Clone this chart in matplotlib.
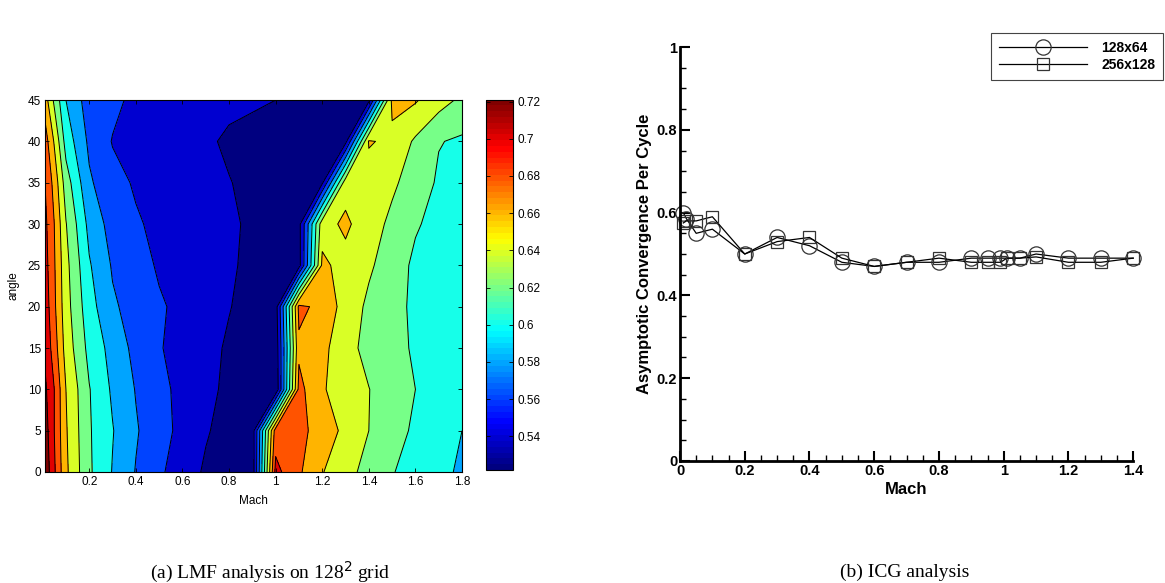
import numpy as np
import matplotlib
matplotlib.use("Agg")
import matplotlib.pyplot as plt
from matplotlib.colors import ListedColormap, Normalize
from matplotlib.cm import ScalarMappable
from matplotlib.ticker import MultipleLocator

plt.rcParams['font.family'] = ['Liberation Sans', 'DejaVu Sans']

# --- Panel (a): LMF analysis on 128^2 grid ----------------------------------
mach_grid = [0.01, 0.05, 0.1, 0.2, 0.3, 0.4, 0.5, 0.6, 0.7, 0.8, 0.9,
             1.0, 1.1, 1.2, 1.3, 1.4, 1.5, 1.6, 1.7, 1.8]
angle_grid = [0, 5, 10, 15, 20, 25, 30, 35, 40, 45]

# one row per angle, one value per Mach column
lmf_a00 = [0.735, 0.703, 0.664, 0.623, 0.599, 0.579, 0.563, 0.551, 0.537, 0.531,
           0.527, 0.706, 0.683, 0.661, 0.647, 0.633, 0.621, 0.613, 0.605, 0.597]
lmf_a05 = [0.730, 0.700, 0.662, 0.622, 0.601, 0.582, 0.567, 0.555, 0.542, 0.532,
           0.529, 0.690, 0.686, 0.671, 0.655, 0.640, 0.627, 0.617, 0.609, 0.600]
lmf_a10 = [0.724, 0.700, 0.660, 0.621, 0.597, 0.579, 0.564, 0.556, 0.546, 0.535,
           0.528, 0.522, 0.686, 0.662, 0.650, 0.6405, 0.628, 0.620, 0.613, 0.606]
lmf_a15 = [0.716, 0.690, 0.652, 0.614, 0.593, 0.574, 0.561, 0.555, 0.547, 0.537,
           0.530, 0.526, 0.676, 0.665, 0.648, 0.633, 0.625, 0.618, 0.613, 0.607]
lmf_a20 = [0.712, 0.684, 0.648, 0.608, 0.583, 0.572, 0.562, 0.556, 0.549, 0.541,
           0.532, 0.530, 0.685, 0.674, 0.652, 0.636, 0.625, 0.617, 0.612, 0.607]
lmf_a25 = [0.708, 0.682, 0.646, 0.602, 0.578, 0.567, 0.558, 0.554, 0.550, 0.543,
           0.535, 0.531, 0.532, 0.664, 0.653, 0.643, 0.630, 0.616, 0.612, 0.608]
lmf_a30 = [0.705, 0.680, 0.641, 0.594, 0.572, 0.562, 0.556, 0.553, 0.550, 0.545,
           0.535, 0.532, 0.533, 0.652, 0.664, 0.648, 0.636, 0.622, 0.614, 0.609]
lmf_a35 = [0.700, 0.673, 0.630, 0.583, 0.566, 0.558, 0.554, 0.551, 0.547, 0.541,
           0.534, 0.531, 0.530, 0.537, 0.652, 0.650, 0.643, 0.632, 0.617, 0.612]
lmf_a40 = [0.690, 0.658, 0.612, 0.576, 0.559, 0.555, 0.552, 0.549, 0.544, 0.536,
           0.533, 0.531, 0.530, 0.531, 0.534, 0.662, 0.655, 0.637, 0.621, 0.617]
lmf_a45 = [0.670, 0.636, 0.600, 0.570, 0.565, 0.555, 0.552, 0.550, 0.548, 0.546,
           0.543, 0.540, 0.535, 0.533, 0.532, 0.535, 0.665, 0.662, 0.648, 0.636]

lmf_levels = [0.54, 0.56, 0.58, 0.60, 0.62, 0.64, 0.66, 0.68, 0.70, 0.72]
cbar_min, cbar_max = 0.522, 0.721

# --- Panel (b): ICG analysis -------------------------------------------------
icg_mach = [0.01, 0.02, 0.05, 0.1, 0.2, 0.3, 0.4, 0.5, 0.6, 0.7,
            0.8, 0.9, 0.95, 0.99, 1.01, 1.05, 1.1, 1.2, 1.3, 1.4]
conv_128x64 = [0.60, 0.585, 0.55, 0.56, 0.50, 0.54, 0.52, 0.48, 0.47, 0.48,
               0.48, 0.49, 0.49, 0.49, 0.49, 0.49, 0.50, 0.49, 0.49, 0.49]
conv_256x128 = [0.575, 0.58, 0.58, 0.59, 0.50, 0.53, 0.54, 0.49, 0.47, 0.48,
                0.49, 0.48, 0.48, 0.48, 0.49, 0.49, 0.493, 0.48, 0.48, 0.49]


def matlab_jet(n=64):
    t = np.linspace(0, 1, n)
    r = np.clip(1.5 - np.abs(4 * t - 3), 0, 1)
    g = np.clip(1.5 - np.abs(4 * t - 2), 0, 1)
    b = np.clip(1.5 - np.abs(4 * t - 1), 0, 1)
    return ListedColormap(np.column_stack([r, g, b]))


fig = plt.figure(figsize=(11.65, 5.83), dpi=100)

# --- contour panel -----------------------------------------------------------
jet = matlab_jet()
norm = Normalize(cbar_min, cbar_max)
Z = np.array([lmf_a00, lmf_a05, lmf_a10, lmf_a15, lmf_a20,
              lmf_a25, lmf_a30, lmf_a35, lmf_a40, lmf_a45])
band_lower = [cbar_min] + lmf_levels
band_colors = [jet(norm(v)) for v in band_lower]
fill_levels = [0.50] + lmf_levels + [0.80]

ax1 = fig.add_axes([0.0386, 0.1904, 0.358, 0.638])
ax1.contourf(mach_grid, angle_grid, Z, levels=fill_levels, colors=band_colors)
ax1.contour(mach_grid, angle_grid, Z, levels=lmf_levels, colors='k', linewidths=0.7)
ax1.set_xlim(0.01, 1.8)
ax1.set_ylim(0, 45)
ax1.set_xticks(np.arange(0.2, 1.81, 0.2))
ax1.set_xticklabels(['0.2', '0.4', '0.6', '0.8', '1', '1.2', '1.4', '1.6', '1.8'])
ax1.set_yticks(np.arange(0, 46, 5))
ax1.tick_params(direction='in', top=True, right=True, length=3, width=0.6,
                labelsize=8.5, pad=3)
for s in ax1.spines.values():
    s.set_linewidth(0.8)
ax1.set_xlabel('Mach', fontsize=8.5, labelpad=5)
ax1.set_ylabel('angle', fontsize=8.5, labelpad=6)

cax = fig.add_axes([0.4172, 0.194, 0.0232, 0.635])
sm = ScalarMappable(norm=norm, cmap=jet)
cb = fig.colorbar(sm, cax=cax, ticks=lmf_levels)
cb.ax.set_yticklabels(['0.54', '0.56', '0.58', '0.6', '0.62', '0.64',
                       '0.66', '0.68', '0.7', '0.72'])
cb.ax.tick_params(direction='in', left=True, right=True, length=3, width=0.6,
                  labelsize=8.5, pad=3)
cb.outline.set_linewidth(0.8)

# --- line panel (Tecplot style) ---------------------------------------------
ax2 = fig.add_axes([0.5837, 0.2093, 0.389, 0.710])
ax2.plot(icg_mach, conv_128x64, color='k', lw=0.9, marker='o', ms=11,
         mfc='none', mec='#333333', mew=0.9, clip_on=False, label='128x64')
ax2.plot(icg_mach, conv_256x128, color='k', lw=0.9, marker='s', ms=9,
         mfc='none', mec='#333333', mew=0.9, clip_on=False, label='256x128')
ax2.set_xlim(0, 1.4)
ax2.set_ylim(0, 1)
ax2.spines['top'].set_visible(False)
ax2.spines['right'].set_visible(False)
ax2.spines['left'].set_linewidth(2)
ax2.spines['bottom'].set_linewidth(2)
ax2.xaxis.set_minor_locator(MultipleLocator(0.05))
ax2.yaxis.set_minor_locator(MultipleLocator(0.05))
ax2.set_xticks(np.arange(0, 1.41, 0.2))
ax2.set_xticklabels(['0', '0.2', '0.4', '0.6', '0.8', '1', '1.2', '1.4'])
ax2.set_yticks(np.arange(0, 1.01, 0.2))
ax2.set_yticklabels(['0', '0.2', '0.4', '0.6', '0.8', '1'])
ax2.tick_params(which='major', direction='in', length=7, width=1.5,
                labelsize=10.5, pad=2)
ax2.tick_params(which='minor', direction='in', length=4, width=1)
for lab in ax2.get_xticklabels() + ax2.get_yticklabels():
    lab.set_fontweight('bold')
ax2.set_xlabel('Mach', fontsize=12, fontweight='bold', labelpad=3)
ax2.set_ylabel('Asymptotic Convergence Per Cycle', fontsize=12,
               fontweight='bold', labelpad=3)

leg = fig.legend(loc='upper right', bbox_to_anchor=(1163 / 1165, 550 / 583),
                 frameon=True, fancybox=False, edgecolor='#444444',
                 framealpha=1, handlelength=6.4, handletextpad=1.0,
                 borderpad=0.55, labelspacing=0.25, borderaxespad=0.0,
                 prop={'weight': 'bold', 'size': 10})
leg.get_frame().set_linewidth(0.8)

# --- captions ----------------------------------------------------------------
fig.text(270 / 1165, 1 - 572 / 583, '(a) LMF analysis on 128$^2$ grid',
         ha='center', va='center', fontsize=14,
         family=['Liberation Serif', 'DejaVu Serif'])
fig.text(905 / 1165, 1 - 572 / 583, '(b) ICG analysis',
         ha='center', va='center', fontsize=14,
         family=['Liberation Serif', 'DejaVu Serif'])

fig.savefig('out.png', dpi=100)
